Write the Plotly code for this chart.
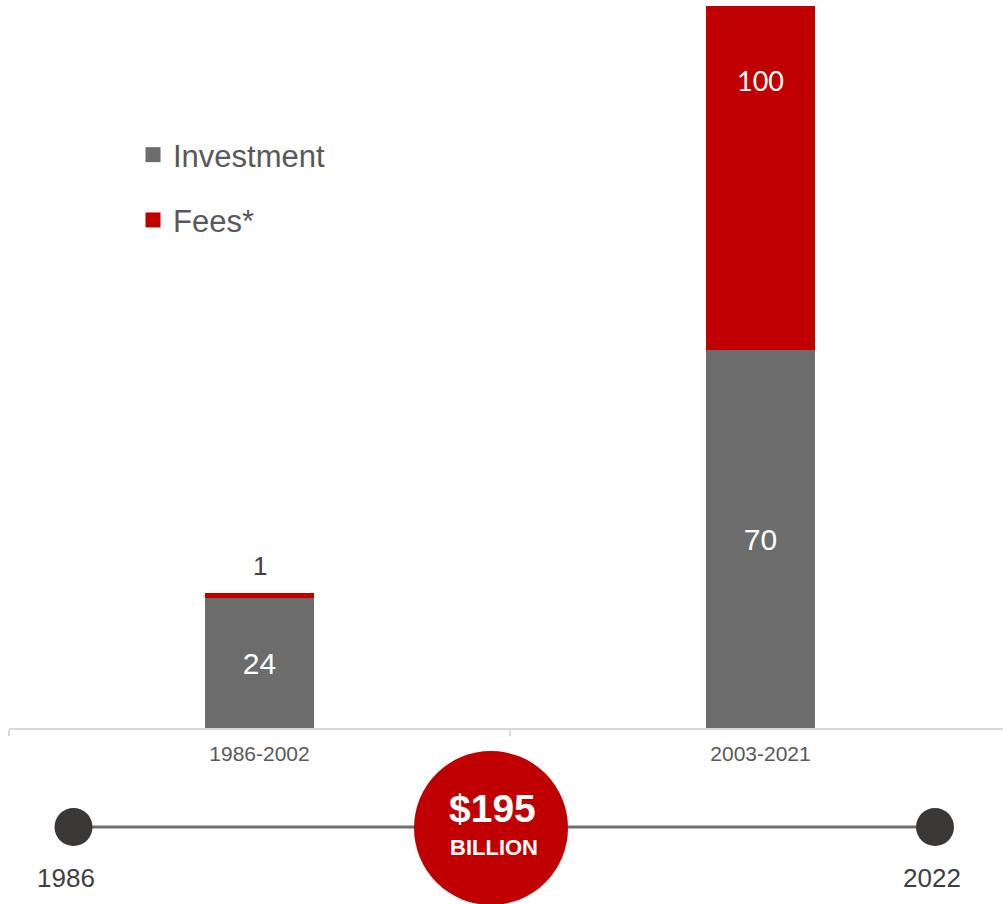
import plotly.graph_objects as go

# ---- data ----
periods = ["1986-2002", "2003-2021"]
investment = [24, 70]
fees = [1, 100]
timeline_years = [1986, 2022]
total_billion = sum(investment) + sum(fees)

GRAY = "#6b6c6b"
RED = "#c00000"
TXT = "#595959"
FONT = "Arial, Liberation Sans, sans-serif"

W, H = 1003, 904
MT, MB = 6, 0
PH = H - MT - MB
PX_PER_UNIT = 5.40


def py(px):
    """page pixel y -> paper y"""
    return (H - px) / PH


def pxx(px):
    return px / W


fig = go.Figure()

fig.add_trace(go.Bar(
    x=periods, y=investment, name="Investment",
    marker=dict(color=GRAY, line=dict(width=0)),
    text=[str(v) for v in investment], textposition="inside",
    insidetextanchor="middle",
    textfont=dict(family=FONT, size=30, color="white"),
    width=0.218, showlegend=False, xaxis="x", yaxis="y",
))
fig.add_trace(go.Bar(
    x=periods, y=fees, name="Fees*",
    marker=dict(color=RED, line=dict(width=0)),
    width=0.218, showlegend=False, xaxis="x", yaxis="y",
))

# legend entries (square swatches)
for nm, col, grp in [("Investment", GRAY, "inv"), ("Fees*", RED, "fees")]:
    fig.add_trace(go.Scatter(
        x=[None], y=[None], mode="markers", name=nm,
        marker=dict(symbol="square", size=15, color=col),
        legendgroup=grp, xaxis="x", yaxis="y",
    ))

# timeline
fig.add_trace(go.Scatter(
    x=timeline_years, y=[0, 0], mode="lines+markers",
    line=dict(color="#707070", width=3),
    marker=dict(size=38, color="#3a3836"),
    xaxis="x2", yaxis="y2", showlegend=False, hoverinfo="skip",
))

annotations = [
    dict(x=periods[0], y=investment[0] + fees[0], xref="x", yref="y",
         text=str(fees[0]), showarrow=False, yanchor="bottom", yshift=10,
         font=dict(family=FONT, size=26, color="#404040")),
    dict(x=periods[1], y=(728 - 80) / PX_PER_UNIT, xref="x", yref="y",
         text=str(fees[1]), showarrow=False, yanchor="middle",
         font=dict(family="Lato, sans-serif", size=27, color="white")),
    dict(x=timeline_years[0], y=0, xref="x2", yref="y2", xshift=-8,
         text=str(timeline_years[0]), showarrow=False, yanchor="middle", yshift=-51,
         font=dict(family=FONT, size=26, color="#3f3f3f")),
    dict(x=timeline_years[1], y=0, xref="x2", yref="y2", xshift=-3,
         text=str(timeline_years[1]), showarrow=False, yanchor="middle", yshift=-51,
         font=dict(family=FONT, size=26, color="#3f3f3f")),
    dict(x=pxx(492), y=py(808), xref="paper", yref="paper",
         text=f"<b>${total_billion}</b>", showarrow=False, yanchor="middle",
         font=dict(family=FONT, size=39, color="white")),
    dict(x=pxx(494), y=py(847), xref="paper", yref="paper",
         text="<b>BILLION</b>", showarrow=False, yanchor="middle",
         font=dict(family=FONT, size=22, color="white")),
]

shapes = [
    dict(type="circle", xref="paper", yref="paper",
         x0=pxx(491 - 77), x1=pxx(491 + 77), y0=py(828 + 77), y1=py(828 - 77),
         fillcolor=RED, line=dict(width=0), layer="above"),
]

# x2 maps years so 1986 -> px 73.5 and 2022 -> px 935
ppy = (935 - 73.5) / (timeline_years[1] - timeline_years[0])
x2_lo = timeline_years[0] - 73.5 / ppy
x2_hi = timeline_years[0] + (W - 73.5) / ppy

fig.update_layout(
    width=W, height=H,
    margin=dict(l=0, r=0, t=MT, b=MB),
    paper_bgcolor="white", plot_bgcolor="white",
    barmode="stack",
    bargap=0,
    hovermode=False,
    showlegend=True,
    legend=dict(
        x=pxx(133), y=py(128), xanchor="left", yanchor="top",
        font=dict(family=FONT, size=31, color=TXT),
        traceorder="grouped", tracegroupgap=22,
        bgcolor="rgba(0,0,0,0)",
        itemwidth=30,
    ),
    xaxis=dict(
        domain=[9 / W, 1], range=[-0.5, -0.5 + (W - 9) / 501],
        type="category",
        showline=True, linecolor="#d9d9d9", linewidth=2,
        ticks="outside", tickson="boundaries", ticklen=6,
        tickcolor="#d9d9d9", tickwidth=2,
        tickfont=dict(family=FONT, size=21, color=TXT),
        ticklabelstandoff=6,
        showgrid=False, zeroline=False, fixedrange=True,
    ),
    yaxis=dict(
        domain=[py(728), 1], range=[0, (728 - MT) / PX_PER_UNIT],
        visible=False, showgrid=False, zeroline=False, fixedrange=True,
    ),
    xaxis2=dict(
        domain=[0, 1], range=[x2_lo, x2_hi], anchor="y2",
        visible=False, showgrid=False, zeroline=False, fixedrange=True,
    ),
    yaxis2=dict(
        domain=[0, 0.19], range=[-(H - 827) / (0.19 * PH), 1 - (H - 827) / (0.19 * PH)],
        anchor="x2", visible=False, showgrid=False, zeroline=False, fixedrange=True,
    ),
    annotations=annotations,
    shapes=shapes,
)

fig.write_html(
    "out.html",
    config={"displayModeBar": False, "staticPlot": False},
    post_script="document.body.style.margin='0';document.body.style.overflow='hidden';",
)
